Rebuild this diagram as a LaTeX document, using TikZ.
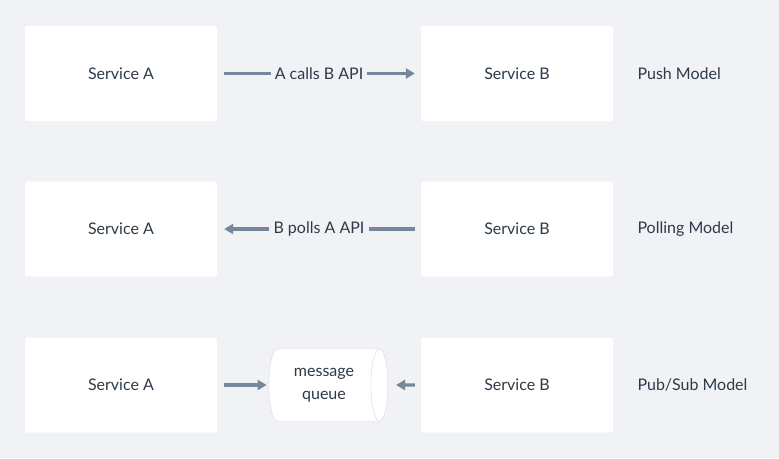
\documentclass[tikz,border=0pt]{standalone}
\usepackage{fontspec}
\setmainfont{Lato}
\usetikzlibrary{positioning,shapes.geometric,arrows.meta}
\definecolor{bg}{HTML}{F0F2F5}
\definecolor{ink}{HTML}{2E3A48}
\definecolor{wire}{HTML}{77879A}
\tikzset{
  svc/.style={fill=white, rounded corners=2pt, minimum width=192pt, minimum height=95pt, inner sep=0pt, text=ink, font=\fontsize{16}{18}\selectfont},
  model/.style={anchor=west, text=ink, font=\fontsize{16}{18}\selectfont},
  flow/.style={draw=wire, line width=3.4pt, -{Triangle[length=9pt,width=10pt]}},
  tag/.style={text=ink, font=\fontsize{16}{18}\selectfont, inner sep=4pt},
  queue/.style={cylinder, draw=black!15, fill=white, minimum width=72pt, minimum height=119pt, shape aspect=0.5, text=ink, align=center, font=\fontsize{16}{23}\selectfont, inner sep=0pt}
}
\begin{document}
\begin{tikzpicture}[x=1pt,y=-1pt]
\fill[bg] (0,0) rectangle (779,458);
\useasboundingbox (0,0) rectangle (779,458);
% push
\node[svc] (pa) at (121,73.5) {Service A};
\node[svc] (pb) at (517,73.5) {Service B};
\node[model] (pm) at (634,73.5) {Push Model};
\node[tag] (pt) at (319,73.5) {A calls B API};
\draw[draw=wire, line width=3.4pt] ([xshift=7pt]pa.east) -- (pt.west);
\draw[flow] (pt.east) -- ([xshift=-6pt]pb.west);
% polling
\node[svc] (la) at (121,229) {Service A};
\node[svc] (lb) at (517,229) {Service B};
\node[model] (lm) at (634,229) {Polling Model};
\node[tag] (lt) at (319,229) {B polls A API};
\draw[draw=wire, line width=3.4pt] ([xshift=-6pt]lb.west) -- (lt.east);
\draw[flow] (lt.west) -- ([xshift=7pt]la.east);
% pub/sub
\node[svc] (sa) at (121,385) {Service A};
\node[svc] (sb) at (517,385) {Service B};
\node[model] (sm) at (634,385) {Pub/Sub Model};
\node[queue] (q) at (324,385) {message\\queue};
\draw[flow] ([xshift=7pt]sa.east) -- ([xshift=-2pt]q.west);
\draw[flow] ([xshift=-6pt]sb.west) -- ([xshift=8pt]q.east);
\end{tikzpicture}
\end{document}
